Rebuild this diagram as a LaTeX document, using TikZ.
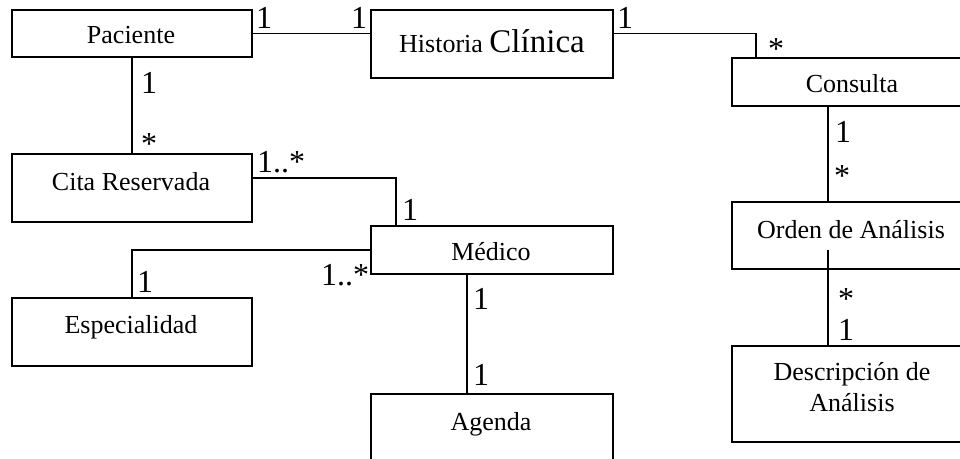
\documentclass[tikz,border=0pt]{standalone}
\usepackage{fontspec}
\setmainfont{Liberation Serif}
\begin{document}
\begin{tikzpicture}[x=1pt,y=-1pt,
  box/.style={draw, line width=1.9pt, rectangle, inner sep=0pt, outer sep=0pt},
  txt/.style={inner sep=0pt, anchor=base, font=\fontsize{26}{30}\selectfont},
  mult/.style={inner sep=0pt, anchor=base west, font=\fontsize{32}{35}\selectfont},
  conn/.style={line width=1.9pt}]
\useasboundingbox (0,0) rectangle (960,458);
\clip (0,0) rectangle (960,458);
% boxes
\node[box, minimum width=240pt, minimum height=47pt] (pac) at (132,33.5) {};
\node[box, minimum width=242pt, minimum height=68pt] (hc) at (492,44) {};
\node[box, minimum width=240pt, minimum height=48pt] (con) at (852,82) {};
\node[box, minimum width=240pt, minimum height=68pt] (cita) at (132,188) {};
\node[box, minimum width=242pt, minimum height=48pt] (med) at (492,250) {};
\node[box, minimum width=240pt, minimum height=68pt] (esp) at (132,332) {};
\node[box, minimum width=240pt, minimum height=67pt] (ord) at (852,235.5) {};
\node[box, minimum width=240pt, minimum height=96pt] (des) at (852,394) {};
\node[box, minimum width=242pt, minimum height=76pt] (ag) at (492,432) {};
% texts
\node[txt] (pact) at (131,43) {Paciente};
\node[txt] (hct) at (492,52) {Historia {\fontsize{33}{36}\selectfont Clínica}};
\node[txt] (cont) at (852,92) {Consulta};
\node[txt] (citat) at (131,190) {Cita Reservada};
\node[txt] (medt) at (491,260) {Médico};
\node[txt] (espt) at (131,333) {Especialidad};
\node[txt] (ordt) at (851,238) {Orden de Análisis};
\node[txt] (dest1) at (852,380) {Descripción de};
\node[txt] (dest2) at (852,411) {Análisis};
\node[txt] (agt) at (491,430) {Agenda};
% connectors
\draw[conn] (pac.east) -- (pac.east -| hc.west);
\draw[conn] (pac.east -| hc.east) -| ([xshift=24pt]con.north west);
\draw[conn] (pac.south) -- (cita.north);
\draw[conn] ([yshift=10pt]cita.east) -| ([xshift=25pt]med.north west);
\draw[conn] (med.west) -| (esp.north);
\draw[conn] ([xshift=96pt]med.south west) -- ([xshift=96pt]ag.north west);
\draw[conn] ([xshift=96pt]con.south west) -- ([xshift=96pt]ord.north west);
\draw[conn] ([xshift=96pt,yshift=19pt]ord.south west) -- ([xshift=96pt]des.north west);
% multiplicities
\node[mult] (m1) at (256,28) {1};
\node[mult] (m2) at (351,28) {1};
\node[mult] (m3) at (617,28) {1};
\node[mult] (m4) at (768,59) {*};
\node[mult] (m5) at (141,93) {1};
\node[mult] (m6) at (141,154) {*};
\node[mult] (m7) at (257,172) {1..*};
\node[mult] (m8) at (402,220) {1};
\node[mult] (m9) at (321,285) {1..*};
\node[mult] (m10) at (137,292) {1};
\node[mult] (m11) at (473,309) {1};
\node[mult] (m12) at (473,385) {1};
\node[mult] (m13) at (835,142) {1};
\node[mult] (m14) at (834,186) {*};
\node[mult] (m15) at (838,309) {*};
\node[mult] (m16) at (838,340) {1};
\end{tikzpicture}
\end{document}
